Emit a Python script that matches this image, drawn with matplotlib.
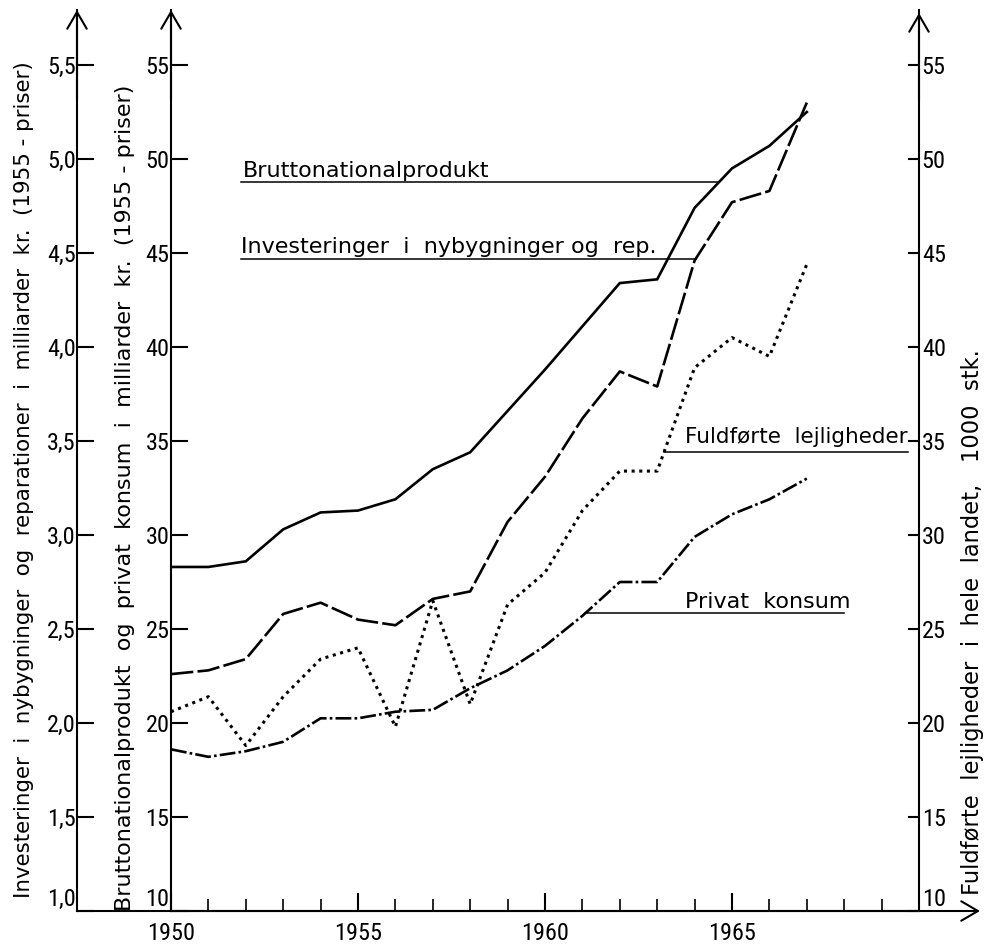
import matplotlib
matplotlib.use('Agg')
import matplotlib.pyplot as plt
import numpy as np
from matplotlib import font_manager as fm

# ---------------- data ----------------
years = list(range(1950, 1968))
bnp = [28.3, 28.3, 28.6, 30.3, 31.2, 31.3, 31.9, 33.5, 34.4, 36.6, 38.8, 41.1,
       43.4, 43.6, 47.4, 49.5, 50.7, 52.5]            # mia. kr. (1955-priser)
invest = [2.26, 2.28, 2.34, 2.58, 2.64, 2.55, 2.52, 2.66, 2.70, 3.07, 3.31, 3.62,
          3.87, 3.79, 4.46, 4.77, 4.83, 5.30]          # mia. kr. (1955-priser)
lejl = [20.6, 21.4, 18.8, 21.4, 23.4, 24.0, 19.8, 26.5, 21.0, 26.3, 28.0, 31.3,
        33.4, 33.4, 38.9, 40.5, 39.5, 44.4]            # 1000 stk.
konsum = [18.6, 18.2, 18.5, 19.0, 20.25, 20.25, 20.6, 20.7, 21.85, 22.8, 24.1, 25.7,
          27.5, 27.5, 29.9, 31.1, 31.9, 33.0]          # mia. kr. (1955-priser)

inner_ticks = [10, 15, 20, 25, 30, 35, 40, 45, 50, 55]
inner_labels = ['10', '15', '20', '25', '30', '35', '40', '45', '50', '55']
outer_ticks = [1.0, 1.5, 2.0, 2.5, 3.0, 3.5, 4.0, 4.5, 5.0, 5.5]
outer_labels = ['1,0', '1,5', '2,0', '2,5', '3,0', '3,5', '4,0', '4,5', '5,0', '5,5']
right_ticks = [10, 15, 20, 25, 30, 35, 40, 45, 50, 55]
right_labels = ['10', '15', '20', '25', '30', '35', '40', '45', '50', '55']
x_major = [1950, 1955, 1960, 1965]
x_major_labels = ['1950', '1955', '1960', '1965']
x_minor = [y for y in range(1951, 1970) if y % 5 != 0]

label_bnp = 'Bruttonationalprodukt'
label_inv = 'Investeringer  i  nybygninger og  rep.'
label_lejl = 'Fuldførte  lejligheder'
label_kons = 'Privat  konsum'
ylab_outer = 'Investeringer  i  nybygninger  og  reparationer  i  milliarder  kr.  (1955 - priser)'
ylab_inner = 'Bruttonationalprodukt  og  privat  konsum  i  milliarder  kr.  (1955 - priser)'
ylab_right = 'Fuldførte  lejligheder  i  hele  landet,   1000  stk.'

# ---------------- fonts ----------------
available = {f.name for f in fm.fontManager.ttflist}
tick_font = next((f for f in ['Liberation Sans Narrow', 'DejaVu Sans Condensed',
                              'Roboto Condensed', 'Liberation Sans'] if f in available),
                 'DejaVu Sans')
text_font = 'DejaVu Sans'

# ---------------- layout ----------------
W, H = 993, 948
x0px, x1px = 171, 919
ybot, ytop = 911, 10
px_per_unit = 18.8
YMAX = 10 + (ybot - ytop) / px_per_unit

fig = plt.figure(figsize=(W / 100, H / 100), dpi=100)
ax = fig.add_axes([x0px / W, (H - ybot) / H, (x1px - x0px) / W, (ybot - ytop) / H])
ax.set_xlim(1950, 1970)
ax.set_ylim(10, YMAX)

ax_r = ax.twinx()
ax_r.set_ylim(10, YMAX)
ax_o = ax.twinx()
ax_o.set_ylim(1.0, YMAX / 10)

spine_lw = 1.5
for a in (ax, ax_r, ax_o):
    for s in a.spines.values():
        s.set_visible(False)
ax.spines['left'].set_visible(True)
ax.spines['bottom'].set_visible(True)
ax_r.spines['right'].set_visible(True)
ax_o.spines['left'].set_visible(True)
outer_pos = (77 - x0px) / (x1px - x0px)
ax_o.spines['left'].set_position(('axes', outer_pos))
for s in (ax.spines['left'], ax.spines['bottom'], ax_r.spines['right'], ax_o.spines['left']):
    s.set_linewidth(spine_lw)

ax_o.yaxis.set_ticks_position('left')
ax_o.yaxis.set_label_position('left')

# ticks
ax.set_yticks(inner_ticks, inner_labels)
ax_o.set_yticks(outer_ticks, outer_labels)
ax_r.set_yticks(right_ticks, right_labels)
ax.set_xticks(x_major, x_major_labels)
ax.set_xticks(x_minor, minor=True)

tls = 17.5
ax.tick_params(axis='y', which='major', direction='in', length=12, width=1.5, pad=1,
               labelsize=tls, left=True, right=False)
ax_o.tick_params(axis='y', which='major', direction='in', length=12, width=1.5, pad=1,
                 labelsize=tls)
ax_r.tick_params(axis='y', which='major', direction='in', length=8, width=1.5, pad=2,
                 labelsize=tls)
ax.tick_params(axis='x', which='major', direction='in', length=13, width=1.5, pad=8,
               labelsize=tls, top=False)
ax.tick_params(axis='x', which='minor', direction='in', length=8.5, width=1.2, top=False)

for a in (ax, ax_o, ax_r):
    for lab in a.get_yticklabels() + a.get_xticklabels():
        lab.set_fontfamily(tick_font)
for a in (ax, ax_o, ax_r):
    a.yaxis.get_major_ticks()[0].label1.set_va('bottom')
    a.yaxis.get_major_ticks()[0].label2.set_va('bottom')

# axis arrows
arrow_kw = dict(arrowstyle='->,head_length=0.6,head_width=0.35', lw=spine_lw,
                color='black', shrinkA=0, shrinkB=0, mutation_scale=20)
ax.annotate('', xy=(0, 1), xytext=(0, 0.9), xycoords='axes fraction',
            arrowprops=arrow_kw, annotation_clip=False)
ax.annotate('', xy=(outer_pos, 1), xytext=(outer_pos, 0.9), xycoords='axes fraction',
            arrowprops=arrow_kw, annotation_clip=False)
ax.annotate('', xy=(1, (ybot - 13) / (ybot - ytop)), xytext=(1, 0.9),
            xycoords='axes fraction', arrowprops=arrow_kw, annotation_clip=False)
ax.annotate('', xy=((980 - x0px) / (x1px - x0px), 0), xytext=(outer_pos, 0),
            xycoords='axes fraction', arrowprops=arrow_kw, annotation_clip=False)

# ---------------- data lines ----------------
lw = 1.9
ax.plot(years, bnp, color='black', lw=lw, solid_joinstyle='miter')
ax_o.plot(years, invest, color='black', lw=lw, linestyle=(0, (8.5, 1.6)))
ax_r.plot(years, lejl, color='black', lw=2.2, linestyle=(0, (1, 1.5)))
ax.plot(years, konsum, color='black', lw=lw, linestyle=(0, (6, 1.2, 1, 1.2)))


def first_crossing(xs, ys, level):
    for i in range(len(xs) - 1):
        if (ys[i] - level) * (ys[i + 1] - level) <= 0 and ys[i] != ys[i + 1]:
            return xs[i] + (level - ys[i]) / (ys[i + 1] - ys[i]) * (xs[i + 1] - xs[i])
    return xs[-1]


lead_lw = 1.1
tfs = 16
# Bruttonationalprodukt
lvl = 48.76
ax.plot([1951.87, first_crossing(years, bnp, lvl)], [lvl, lvl], color='black', lw=lead_lw)
ax.text(1951.92, 49.05, label_bnp, fontsize=tfs, family=text_font, va='baseline', ha='left')
# Investeringer
lvl = 4.468
ax_o.plot([1951.87, first_crossing(years, invest, lvl)], [lvl, lvl], color='black', lw=lead_lw)
ax_o.text(1951.87, 4.50, label_inv, fontsize=tfs, family=text_font, va='baseline', ha='left')
# Fuldførte lejligheder
lvl = 34.43
ax_r.plot([first_crossing(years, lejl, lvl), 1969.7], [lvl, lvl], color='black', lw=lead_lw)
ax_r.text(1963.74, 34.89, label_lejl, fontsize=15.5, family=text_font, va='baseline', ha='left')
# Privat konsum
lvl = 25.83
ax.plot([first_crossing(years, konsum, lvl), 1968.0], [lvl, lvl], color='black', lw=lead_lw)
ax.text(1963.74, 26.12, label_kons, fontsize=tfs, family=text_font, va='baseline', ha='left')

# ---------------- axis titles ----------------
fig.text(24 / W, 1 - 480 / H, ylab_outer, rotation=90, ha='center', va='center',
         fontsize=15.4, family=text_font)
fig.text(125 / W, 1 - 498 / H, ylab_inner, rotation=90, ha='center', va='center',
         fontsize=16, family=text_font)
fig.text(972 / W, 1 - 622 / H, ylab_right, rotation=90, ha='center', va='center',
         fontsize=16.3, family=text_font)

fig.savefig('out.png', dpi=100)
